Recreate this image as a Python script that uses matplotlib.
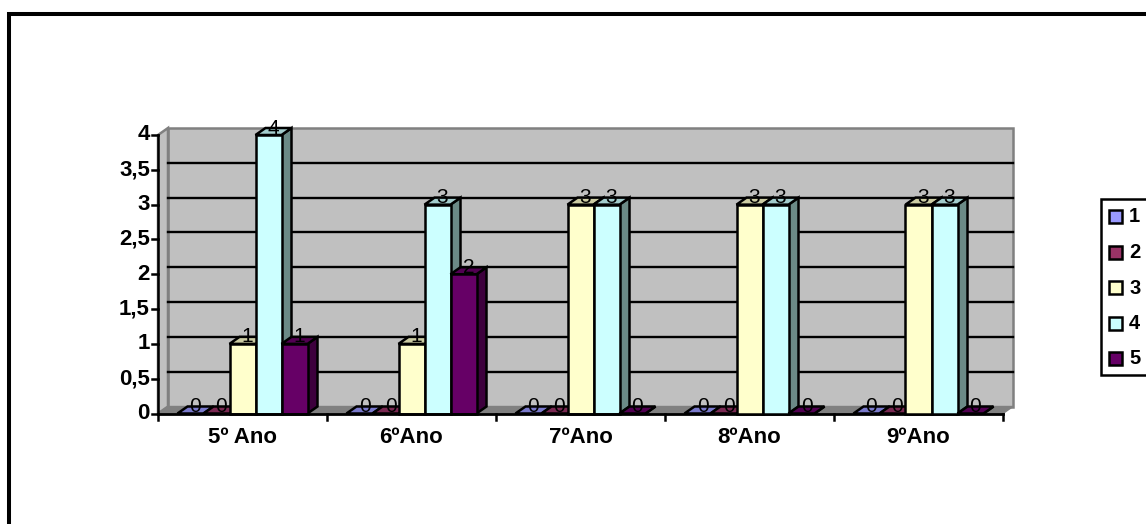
import matplotlib
matplotlib.use("Agg")
import matplotlib.pyplot as plt
from matplotlib.patches import Polygon, Rectangle

plt.rcParams["font.family"] = ["Liberation Sans", "DejaVu Sans"]

# Values
categories = ["5º Ano", "6ºAno", "7ºAno", "8ºAno", "9ºAno"]
series_names = ["1", "2", "3", "4", "5"]
serie1 = [0, 0, 0, 0, 0]
serie2 = [0, 0, 0, 0, 0]
serie3 = [1, 1, 3, 3, 3]
serie4 = [4, 3, 3, 3, 3]
serie5 = [1, 2, 0, 0, 0]
series = [serie1, serie2, serie3, serie4, serie5]

y_ticks = [0, 0.5, 1, 1.5, 2, 2.5, 3, 3.5, 4]
y_labels = ["0", "0,5", "1", "1,5", "2", "2,5", "3", "3,5", "4"]

front = ["#9999ff", "#993366", "#ffffcc", "#ccffff", "#660066"]
top = ["#7a7acc", "#7a2952", "#cccca3", "#a3cccc", "#520052"]
side = ["#5c5c99", "#5c1f3d", "#99997a", "#6b8a86", "#3d003d"]

W, H = 1146, 524
fig = plt.figure(figsize=(W / 100, H / 100), dpi=100, facecolor="white")

# outer frame of the chart area, open on the right and at the bottom
bg = fig.add_axes([0, 0, 1, 1])
bg.set_xlim(0, W)
bg.set_ylim(H, 0)
bg.axis("off")
bg.plot([9, 9, W + 5], [H + 5, 14, 14], color="black", lw=2.9,
        solid_joinstyle="miter", clip_on=False)

# front plane of the plot: x in categories, y in values
left, right, y0, y4 = 158, 1003, 413.5, 135
ax = fig.add_axes([left / W, 1 - y0 / H, (right - left) / W, (y0 - y4) / H])
ax.set_xlim(0, len(categories))
ax.set_ylim(0, 4)
ax.axis("off")

dx = 10 / ((right - left) / len(categories))  # depth in x units
dy = 7 / ((y0 - y4) / 4)  # depth in y units
edge = dict(edgecolor="black", linewidth=1.8, clip_on=False, joinstyle="miter")

# walls and floor
ax.add_patch(Polygon([(dx, dy), (5 + dx, dy), (5 + dx, 4 + dy), (dx, 4 + dy)],
                     facecolor="#c0c0c0", edgecolor="#808080", linewidth=1.8, clip_on=False))
ax.add_patch(Polygon([(0, 0), (dx, dy), (dx, 4 + dy), (0, 4)],
                     facecolor="#c0c0c0", edgecolor="#808080", linewidth=1.8, clip_on=False))
ax.add_patch(Polygon([(0, 0), (5, 0), (5 + dx, dy), (dx, dy)],
                     facecolor="#808080", edgecolor="#808080", linewidth=1, clip_on=False))

# gridlines on the back wall
for t in y_ticks[1:-1]:
    ax.plot([dx, 5 + dx], [t + dy, t + dy], color="black", lw=1.7, clip_on=False, zorder=1.5)
ax.plot([0, 0], [0, 4], color="black", lw=1.8, clip_on=False, zorder=6)
ax.plot([0, 5], [0, 0], color="black", lw=2.0, clip_on=False, zorder=6)

# bars
bar_w = 26 / ((right - left) / len(categories))
gap = (1 - 5 * bar_w) / 2
for c in range(len(categories)):
    for s, vals in enumerate(series):
        x0 = c + gap + s * bar_w
        v = vals[c]
        z = 3 + c + s * 0.1
        ax.add_patch(Polygon([(x0 + bar_w, 0), (x0 + bar_w + dx, dy), (x0 + bar_w + dx, v + dy), (x0 + bar_w, v)],
                             facecolor=side[s], zorder=z, **edge))
        ax.add_patch(Polygon([(x0, v), (x0 + bar_w, v), (x0 + bar_w + dx, v + dy), (x0 + dx, v + dy)],
                             facecolor=top[s], zorder=z, **edge))
        if v > 0:
            ax.add_patch(Rectangle((x0, 0), bar_w, v, facecolor=front[s], zorder=z, **edge))
        ax.text(x0 + bar_w / 2 + dx * 0.5, v + 0.02, str(v), ha="center", va="baseline",
                fontsize=15, color="black", zorder=20, clip_on=False)

# ticks and labels
for t, lab in zip(y_ticks, y_labels):
    ax.plot([-6 / 169, 0], [t, t], color="black", lw=1.8, clip_on=False, zorder=6)
    ax.text(-8 / 169, t, lab, ha="right", va="center", fontsize=16, fontweight="bold", clip_on=False)
for i in range(len(categories) + 1):
    ax.plot([i, i], [0, -0.09], color="black", lw=1.8, clip_on=False, zorder=6)
for i, name in enumerate(categories):
    ax.text(i + 0.5, -0.35, name, ha="center", va="center", fontsize=16, fontweight="bold", clip_on=False)

# legend box, runs off the right edge
bg.add_patch(Rectangle((1101, 198.5), 60, 176.5, facecolor="white", edgecolor="black", linewidth=1.8, clip_on=True))
for s, name in enumerate(series_names):
    yy = 216.5 + s * 35.5
    bg.add_patch(Rectangle((1109, yy - 6.5), 13, 13, facecolor=front[s], edgecolor="black", linewidth=1.8))
    bg.text(1129, yy + 0.5, name, ha="left", va="center", fontsize=14.5, fontweight="bold")

fig.savefig("out.png", dpi=100)
